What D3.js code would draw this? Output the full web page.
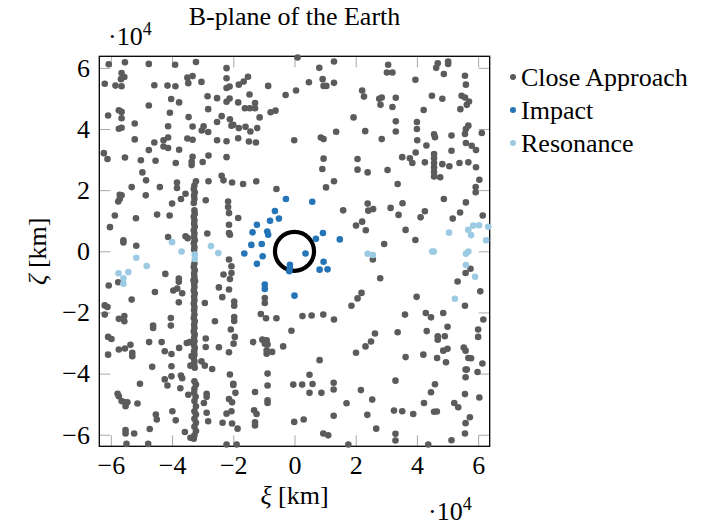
<!DOCTYPE html>
<html>
<head>
<meta charset="utf-8">
<script src="https://cdn.jsdelivr.net/npm/d3@7"></script>
<style>
  body { margin: 0; background: #fff; }
  svg text { font-family: "Liberation Serif", "Times New Roman", serif; }
</style>
</head>
<body>
<svg id="chart" width="719" height="525"></svg>
<script>
// B-plane coordinates (xi, zeta) in units of 10^4 km
const closeApproach = [
  [-6.07,6.12],[-5.54,6.18],[-4.76,6.13],[-3.90,6.10],[-3.22,6.19],
  [-5.65,5.83],[-5.56,5.70],[-5.67,5.63],[-6.20,5.48],[-5.85,5.42],[-5.65,5.40],[-4.58,5.43],[-4.15,5.42],[-3.89,5.40],[-3.50,5.68],[-3.33,5.73],[-3.47,5.50],[-3.04,5.54],
  [-2.84,5.07],[-2.53,5.01],[-4.03,4.98],[-3.77,4.87],[-4.76,4.77],[-5.74,4.61],[-5.65,4.56],[-6.09,4.44],[-5.65,4.35],[-4.07,4.53],[-3.46,4.39],[-2.82,4.65],[-2.38,4.42],[-2.53,4.23],
  [-5.22,4.18],[-4.13,4.09],[-3.33,4.08],[-2.97,4.09],[-3.03,3.95],[-2.82,3.90],[-5.74,4.01],[-5.65,4.04],
  [-5.22,3.66],[-4.58,3.56],[-4.28,3.63],[-4.13,3.72],[-3.50,3.69],[-3.33,3.65],[-2.53,3.63],[-4.28,3.43],[-4.13,3.38],[-3.77,3.32],[-4.76,3.31],
  [-6.23,3.21],[-6.11,3.02],[-5.54,3.07],[-5.02,2.98],[-4.54,2.96],[-3.88,2.89],[-3.33,3.09],[-3.36,2.93],[-3.36,2.82],[-3.00,2.92],[-2.81,3.13],
  [-4.97,2.58],[-4.85,2.32],[-3.84,2.25],[-3.22,2.29],[-2.81,2.29],[-2.38,2.47],[-2.32,2.32],
  [0.10,6.34],[0.81,6.00],[1.29,6.21],[-2.22,5.99],[-2.22,5.66],[-2.12,5.39],[-2.22,5.34],[-1.82,5.45],[-1.66,5.55],[-1.52,5.71],[-0.86,5.41],[-0.29,5.11],[0.05,5.26],[0.47,5.53],[0.92,5.63],[0.95,5.41],[1.04,5.41],[1.29,5.51],
  [-1.47,5.13],[-2.12,5.00],[-2.22,4.89],[-1.84,4.87],[-1.62,4.68],[-1.46,4.68],[-1.29,4.68],[-1.29,4.85],[-1.14,4.38],[-0.78,4.55],[-0.62,4.60],
  [-2.11,4.32],[-2.06,4.11],[-2.00,4.14],[-1.82,4.03],[-1.60,4.07],[-1.44,3.92],[-1.22,4.03],[-2.22,3.60],[-1.84,3.70],[-1.49,3.59],[-1.26,3.56],[-0.01,3.63],[0.86,3.72],[0.95,3.67],[1.36,3.91],[1.93,4.38],
  [-2.22,3.08],[0.95,3.03],[0.91,2.69],[-2.04,2.25],[-1.25,2.29],[1.29,2.29],
  [3.06,6.10],[3.02,5.85],[3.20,5.85],[3.95,5.61],[4.68,6.15],[4.63,6.00],[5.02,6.21],[5.02,6.13],[4.88,5.80],[5.57,5.74],[5.60,5.45],
  [2.21,5.26],[2.27,5.06],[2.77,4.99],[2.85,5.03],[2.81,4.79],[3.31,5.02],[3.20,4.72],[4.22,4.62],[4.49,5.09],[4.83,4.99],[5.46,5.09],[5.57,5.03],[5.70,4.90],[5.63,4.79],[5.42,4.65],
  [3.31,4.25],[3.31,3.92],[4.00,4.23],[4.00,4.00],[2.31,3.93],[2.85,3.67],[4.01,3.63],[4.31,3.46],[4.56,3.83],[4.59,3.73],[5.13,3.79],[5.68,4.11],[5.60,4.00],[5.57,3.84],[6.12,3.87],
  [5.60,3.54],[5.79,3.45],[5.93,3.31],[5.13,3.29],[3.96,3.23],[3.52,3.08],[3.77,3.04],[3.85,2.89],[4.26,2.91],[4.56,3.18],[4.56,3.04],[4.56,2.89],[4.56,2.74],[4.56,2.59],[4.56,2.45],[4.76,2.42],[4.83,2.85],[5.06,2.78],[5.39,2.89],[5.68,2.91],[5.93,2.75],[6.04,2.34],
  [2.06,3.02],[2.06,2.67],[2.39,2.58],[3.04,2.66],
  [-5.32,2.10],[-4.40,2.10],[-3.84,2.07],[-5.71,1.85],[-5.65,1.83],[-5.76,1.63],[-5.71,1.71],[-4.86,1.83],[-4.00,1.56],[-3.71,1.71],[-3.56,1.88],[-2.90,1.67],
  [-5.87,1.17],[-5.18,1.08],[-4.49,1.20],[-4.08,1.17],[-6.03,0.79],[-5.59,0.36],[-5.59,0.29],[-5.17,0.18],[-4.13,0.47],[-3.56,0.49],[-3.49,0.43],[-2.85,0.58],
  [-4.22,-0.74],[-3.78,-0.89],[-3.78,-1.00],[-3.83,-1.22],[-3.96,-1.28],[-3.67,-1.37],[-4.56,-1.33],[-5.76,-1.01],[-6.07,-1.12],[-5.32,-1.58],[-3.78,-1.67],[-2.93,-1.69],[-2.36,-1.50],[-2.47,-1.18],[-2.32,-0.76],[-6.20,-1.77],[-6.11,-1.82],
  [-2.17,1.63],[-2.17,1.45],[-2.14,1.25],[-1.84,1.09],[-2.14,0.87],[-2.14,0.60],[-2.11,0.54],[-2.14,-0.27],[-2.06,-0.49],[-2.06,-0.71],[-2.11,-0.91],[-2.14,-1.25],[-1.97,-1.64],[-1.97,-1.78],[-1.68,2.20],[-0.59,2.04],[1.03,2.09],[1.59,1.34],[1.86,-1.78],[-0.97,-1.53],[-0.97,-1.69],
  [3.37,2.20],[5.92,2.10],[5.92,1.93],[2.39,1.56],[2.41,1.33],[2.57,1.38],[3.14,1.42],[3.53,1.57],[3.40,1.19],[4.88,1.71],[5.60,1.60],[5.41,1.27],[5.17,1.07],[6.15,1.17],[4.12,1.11],[4.26,1.31],[2.21,0.97],[2.01,0.84],[2.33,0.69],[3.63,0.70],[3.95,0.37],[2.93,0.24],[2.56,-0.27],[2.80,-0.88],[2.19,-1.36],[2.06,-1.54],[3.99,-1.49],[5.33,-0.99],[5.59,-0.71],[5.75,-0.57],[6.07,-1.31],[5.57,-1.78],
  [-6.20,-2.07],[-5.74,-2.21],[-5.56,-2.12],[-5.56,-2.29],[-4.04,-2.18],[-4.04,-2.43],[-4.62,-2.43],[-4.62,-2.51],[-2.60,-2.29],[-6.09,-2.80],[-5.98,-2.87],[-6.09,-3.38],[-5.74,-3.21],[-5.54,-3.18],[-5.36,-3.06],[-5.30,-3.32],[-5.30,-3.43],[-4.75,-2.97],[-4.34,-2.97],[-4.24,-3.27],[-4.02,-3.36],[-3.77,-3.16],[-3.52,-3.00],[-3.43,-2.97],[-3.36,-3.43],[-3.40,-3.74],[-3.04,-3.60],[-2.93,-3.74],[-2.69,-3.85],[-2.90,-2.85],[-2.90,-3.13],[-2.47,-3.14],
  [-4.65,-3.78],[-4.02,-3.76],[-4.02,-4.09],[-3.71,-4.06],[-3.67,-4.15],[-4.24,-4.19],[-4.15,-4.39],[-5.05,-4.33],[-3.73,-4.48],[-3.47,-4.69],[-2.87,-4.66],[-2.87,-4.76],[-2.96,-4.96],
  [-5.78,-4.66],[-5.74,-4.74],[-5.65,-4.90],[-5.54,-4.94],[-5.46,-4.94],[-5.52,-5.07],[-5.13,-4.98],[-4.53,-5.34],[-4.50,-5.50],[-3.99,-5.23],[-3.88,-5.53],[-2.87,-5.28],[-2.82,-5.56],[-2.35,-5.61],[-5.52,-5.85],[-5.52,-5.96],[-5.24,-5.96],[-4.73,-5.81],[-3.58,-5.91],[-3.40,-6.10],[-5.49,-6.30],[-4.78,-6.30],
  [-1.97,-2.15],[-1.97,-2.28],[-1.10,-2.05],[-0.93,-2.19],[-0.59,-2.19],[0.26,-2.12],[0.56,-2.10],[0.94,-2.07],[1.29,-2.23],[-2.08,-2.56],[-1.95,-2.80],[-1.99,-3.02],[-2.14,-3.30],[-1.35,-2.97],[-1.05,-2.89],[-0.91,-2.91],[-0.97,-3.02],[-0.88,-3.05],[-0.91,-3.24],[-0.91,-3.35],[-0.73,-3.29],[-0.37,-3.11],[-0.10,-2.60],
  [-2.11,-4.03],[-2.00,-4.33],[-2.00,-4.37],[-1.93,-4.63],[-2.14,-4.83],[-2.04,-4.94],[-2.06,-5.23],[-2.22,-5.31],[-2.04,-5.63],[-1.86,-5.80],[-1.29,-4.60],[-0.88,-4.00],[-0.88,-4.39],[-0.88,-4.87],[-0.88,-4.96],[-1.32,-5.20],[-1.24,-5.32],[-1.29,-5.59],[-1.29,-5.70],
  [-0.04,-4.36],[0.25,-4.36],[0.59,-4.34],[0.49,-4.04],[0.49,-4.63],[0.88,-4.63],[0.82,-3.56],[1.28,-4.30],[1.28,-4.52],[1.70,-4.97],[1.28,-5.38],[-0.01,-5.58],[0.30,-5.50],[0.94,-5.96],[1.10,-6.02],[-1.89,-6.32],[-2.22,-6.32],[1.76,-6.32],
  [3.61,-2.07],[4.29,-2.02],[4.46,-2.16],[4.86,-2.02],[6.17,-2.23],[6.00,-2.56],[6.00,-2.80],[5.00,-2.47],[4.32,-2.61],[4.68,-2.78],[4.68,-2.89],[4.91,-2.78],[3.37,-2.65],[2.63,-2.69],[2.50,-2.95],[2.32,-3.11],[2.01,-3.32],
  [3.63,-3.46],[4.21,-3.38],[4.66,-3.49],[4.95,-3.63],[4.86,-3.25],[5.00,-3.19],[5.53,-3.15],[5.59,-3.25],[5.68,-3.49],[5.77,-3.50],[6.14,-3.67],[5.59,-3.87],[5.63,-3.87],[5.59,-4.12],[5.98,-3.95],
  [3.30,-4.23],[4.59,-4.35],[4.46,-4.61],[2.17,-4.54],[2.54,-4.85],[4.23,-4.96],[5.22,-4.96],[5.35,-5.10],[5.57,-4.67],[6.04,-4.78],[3.25,-5.21],[3.52,-5.23],[3.88,-5.32],[4.56,-5.25],[4.65,-5.24],[2.38,-5.35],[5.73,-5.43],[5.59,-5.62],[2.67,-5.80],[3.30,-5.97],[3.30,-6.19],[4.37,-6.32],[5.13,-6.18],[5.57,-5.96]
];

// the dense vertical streak of close approaches near xi = -3.3
const closeApproachStreak = [
  [-3.27,2.15],[-3.29,2.04],[-3.26,1.93],[-3.28,1.82],[-3.27,1.71],[-3.29,1.58],[-3.27,1.34],[-3.26,1.23],[-3.29,1.13],[-3.27,1.01],[-3.28,0.90],[-3.26,0.80],[-3.29,0.69],[-3.27,0.58],[-3.28,0.47],[-3.26,0.36],[-3.29,0.26],[-3.27,0.14],[-3.28,0.05],
  [-3.27,-0.40],[-3.29,-0.51],[-3.26,-0.62],[-3.28,-0.73],[-3.27,-0.84],[-3.30,-0.95],[-3.25,-0.97],[-3.28,-1.06],[-3.27,-1.17],[-3.29,-1.28],[-3.26,-1.38],[-3.28,-1.49],[-3.27,-1.60],[-3.29,-1.71],[-3.27,-1.82],[-3.28,-1.93],
  [-3.27,-2.07],[-3.29,-2.18],[-3.26,-2.29],[-3.28,-2.40],[-3.27,-2.51],[-3.29,-2.62],[-3.26,-2.72],[-3.28,-2.83],[-3.27,-2.94],[-3.29,-3.05],[-3.26,-3.16],[-3.28,-3.27],[-3.27,-3.38],[-3.29,-3.49],[-3.27,-3.60],[-3.28,-3.70],[-3.26,-3.81],
  [-3.27,-4.25],[-3.22,-4.36],[-3.27,-4.50],[-3.28,-4.63],[-3.23,-4.76],[-3.27,-4.90],[-3.22,-5.07],[-3.27,-5.23],[-3.22,-5.34],[-3.27,-5.48],[-3.22,-5.61],[-3.27,-5.74],[-3.22,-5.88],[-3.27,-6.02],[-3.29,-6.13]
];

const impact = [
  [-0.28,1.71],[0.58,1.62],[-0.64,1.32],[-0.80,1.00],[-0.51,1.07],[-1.23,0.87],[-0.89,0.65],[-0.86,0.54],[-1.37,0.62],
  [-1.41,0.21],[-1.07,0.24],[-1.64,-0.07],[-1.04,-0.16],[-1.23,-0.41],[0.36,-0.07],[-0.15,-0.44],[-0.15,-0.55],[-0.17,-0.65],
  [0.93,0.60],[0.70,0.41],[1.48,0.39],[0.95,-0.34],[0.82,-0.60],[1.08,-0.59],[-0.97,-1.09],[-0.97,-1.23],[0.00,-1.45]
];

const resonance = [
  [-4.00,0.30],[-3.69,-0.01],[-2.73,0.17],[-2.49,-0.06],[-3.26,-0.11],[-3.26,-0.25],[-5.17,-0.21],[-4.83,-0.48],
  [-5.75,-0.72],[-5.43,-0.68],[-5.59,-0.88],[-5.59,-1.06],
  [5.05,0.61],[5.68,0.70],[5.84,0.84],[6.03,0.85],[6.33,0.80],[5.77,0.53],[6.26,0.36],[2.39,-0.08],[2.56,-0.12],
  [4.50,-0.01],[4.55,-0.01],[5.60,-0.08],[5.68,-0.01],[5.60,-0.45],[5.90,-0.83],[5.24,-1.55]
];

const tickValues = [-6, -4, -2, 0, 2, 4, 6];
const limit = 6.378;        // 10 Earth radii, 10^4 km
const earthRadius = 0.6378; // 10^4 km

const series = [
  { name: 'Close Approach', color: '#5b5b5b' },
  { name: 'Impact', color: '#2474b8' },
  { name: 'Resonance', color: '#9dcae3' }
];

const svg = d3.select('#chart');
const fontSize = 26;
const dotR = 3.3;

const x = d3.scaleLinear().domain([-limit, limit]).range([99.3, 489.7]);
const y = d3.scaleLinear().domain([-limit, limit]).range([446.3, 56.3]);

const tickColor = '#a8a8a8';
function styleAxis(g) {
  g.select('.domain').remove();
  g.selectAll('.tick line').attr('stroke', tickColor).attr('stroke-width', 1);
  g.selectAll('.tick text').attr('fill', '#000').attr('font-size', fontSize)
    .attr('font-family', '"Liberation Serif", serif');
}

svg.append('g')
  .attr('transform', `translate(0,${y(-limit)})`)
  .call(d3.axisBottom(x).tickValues(tickValues).tickSize(-11).tickPadding(9))
  .call(styleAxis);
svg.append('g')
  .attr('transform', `translate(0,${y(limit)})`)
  .call(d3.axisTop(x).tickValues(tickValues).tickSize(-11).tickFormat(''))
  .call(styleAxis);
svg.append('g')
  .attr('transform', `translate(${x(-limit)},0)`)
  .call(d3.axisLeft(y).tickValues(tickValues).tickSize(-11).tickPadding(9.3))
  .call(styleAxis);
svg.append('g')
  .attr('transform', `translate(${x(limit)},0)`)
  .call(d3.axisRight(y).tickValues(tickValues).tickSize(-11).tickFormat(''))
  .call(styleAxis);

// frame
svg.append('rect')
  .attr('x', x(-limit)).attr('y', y(limit))
  .attr('width', x(limit) - x(-limit)).attr('height', y(-limit) - y(limit))
  .attr('fill', 'none').attr('stroke', '#000').attr('stroke-width', 1.3);

// points
svg.append('g').selectAll('circle')
  .data(closeApproach.concat(closeApproachStreak))
  .join('circle')
  .attr('cx', d => x(d[0])).attr('cy', d => y(d[1]))
  .attr('r', dotR).attr('fill', series[0].color);

// Earth
svg.append('circle')
  .attr('cx', x(0)).attr('cy', y(0))
  .attr('r', x(earthRadius) - x(0))
  .attr('fill', 'none').attr('stroke', '#000').attr('stroke-width', 4.2);

svg.append('g').selectAll('circle')
  .data(impact)
  .join('circle')
  .attr('cx', d => x(d[0])).attr('cy', d => y(d[1]))
  .attr('r', dotR).attr('fill', series[1].color);

svg.append('g').selectAll('circle')
  .data(resonance)
  .join('circle')
  .attr('cx', d => x(d[0])).attr('cy', d => y(d[1]))
  .attr('r', dotR).attr('fill', series[2].color);

// title
svg.append('text')
  .attr('x', x(0)).attr('y', 25)
  .attr('text-anchor', 'middle').attr('font-size', fontSize)
  .text('B-plane of the Earth');

// axis labels
svg.append('text')
  .attr('x', x(0)).attr('y', 504)
  .attr('text-anchor', 'middle').attr('font-size', fontSize)
  .html('<tspan font-style="italic">ξ</tspan> [km]');
svg.append('text')
  .attr('transform', `translate(46,${y(0)}) rotate(-90)`)
  .attr('text-anchor', 'middle').attr('font-size', fontSize)
  .html('<tspan font-style="italic">ζ</tspan> [km]');

// scale multipliers
function multiplier(px, py) {
  const t = svg.append('text').attr('x', px).attr('y', py).attr('font-size', fontSize);
  t.append('tspan').text('·10');
  t.append('tspan').attr('font-size', 18).attr('dy', -10).text('4');
}
multiplier(108, 45);
multiplier(428, 520);

// legend
const legend = svg.append('g');
series.forEach((s, i) => {
  const ly = 77 + i * 33;
  legend.append('circle').attr('cx', 513).attr('cy', ly).attr('r', 3).attr('fill', s.color);
  legend.append('text').attr('x', 521).attr('y', ly).attr('dy', '0.33em')
    .attr('font-size', fontSize).text(s.name);
});
</script>
</body>
</html>
